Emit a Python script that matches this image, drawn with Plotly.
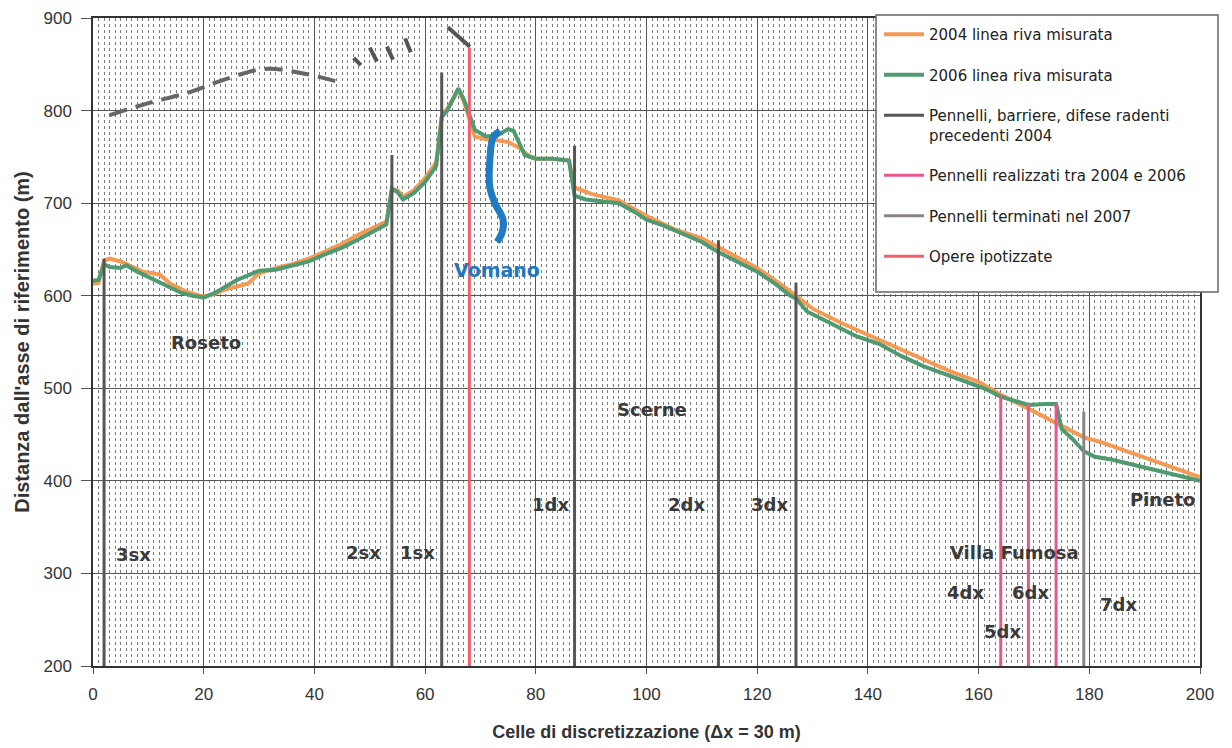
import plotly.graph_objects as go

# ---------------- data ----------------
x2006 = [0, 1, 2, 3, 5, 6, 8, 10, 12, 14, 16, 18, 20, 22, 24, 26, 28, 30, 33, 36, 39, 42, 45, 48, 51, 53,
         54, 55, 56, 58, 60, 62, 63, 64, 66, 67, 69, 71, 73, 75, 76, 78, 80, 83, 86,
         87, 89, 92, 95, 98, 100, 103, 107, 110, 113, 116, 120, 123, 126, 127, 129, 131, 135, 138, 142,
         146, 150, 154, 158, 161, 164, 167, 169, 172, 174, 175, 177, 179, 181, 184, 188, 192, 196, 200]
y2006 = [616, 617, 634, 631, 630, 633, 626, 620, 614, 608, 603, 600, 598, 603, 610, 617, 622, 627, 628, 632, 637, 645, 652, 661, 671, 677,
         716, 712, 704, 711, 723, 740, 793, 800, 824, 812, 779, 772, 773, 780, 778, 752, 748, 748, 746,
         708, 704, 702, 700, 690, 682, 676, 666, 658, 647, 638, 626, 614, 600, 597, 583, 577, 565, 556, 548,
         535, 524, 515, 507, 500, 491, 485, 482, 483, 483, 456, 445, 432, 426, 423, 417, 412, 406, 400]

x2004 = [0, 1, 2, 3, 5, 7, 9, 12, 14, 17, 20, 22, 24, 26, 28, 30, 33, 36, 39, 42, 45, 48, 51, 53,
         54, 55, 56, 58, 60, 62, 63, 64, 66, 67, 69, 71, 73, 75, 77, 79, 80, 83, 86,
         87, 90, 95, 100, 105, 110, 115, 120, 125, 130, 135, 140, 145, 150, 155, 160, 164,
         169, 174, 179, 182, 188, 192, 196, 200]
y2004 = [613, 614, 638, 640, 637, 631, 626, 623, 613, 604, 599, 602, 607, 610, 613, 624, 630, 634, 640, 648, 656, 666, 675, 680,
         714, 714, 707, 714, 727, 744, 793, 802, 822, 810, 772, 769, 768, 766, 760, 750, 748, 748, 746,
         717, 710, 703, 686, 672, 662, 646, 630, 609, 586, 571, 558, 544, 531, 518, 507, 493,
         478, 462, 447, 442, 429, 421, 412, 404]

# existing groynes / barriers before 2004 (x, top value)
groyne_x = [2, 54, 63, 87, 113, 127]
groyne_top = [640, 752, 841, 762, 660, 614]
# offshore barrier (dashed arc)
barrier_x = [3, 10, 17.5, 24, 31, 38, 44.3]
barrier_y = [795, 808, 820, 834, 845, 840, 831]
# short detached segments (start/end pairs)
seg_x = [[47.1, 48.4], [50.0, 51.3], [53.1, 54.2], [56.4, 57.4], [64.1, 68.1]]
seg_y = [[857, 849], [868, 853], [869, 855], [878, 863], [890, 869]]

# groynes built between 2004 and 2006
new_x = [164, 169, 174]
new_top = [493, 484, 484]
# groyne completed in 2007
done_x = [179]
done_top = [475]
# hypothesised works
plan_x = [68]
plan_top = [868]

# Vomano river mouth
river_x = [73.5, 72.3, 71.7, 71.7, 72.6, 74.1, 73.9, 73.0]
river_y = [778, 771, 747, 717, 700, 682, 668, 658]

labels = ["Roseto", "Scerne", "1dx", "2dx", "3dx", "Pineto", "3sx", "2sx", "1sx",
          "Villa Fumosa", "4dx", "6dx", "5dx", "7dx"]
label_x = [20.5, 101, 82.7, 107.2, 122.2, 193.3, 7.4, 48.8, 58.7, 166.5, 157.7, 169.3, 164.4, 185.2]
label_y = [550, 477, 374, 374, 374, 380, 320, 323, 323, 323, 279, 279, 237, 266]

BASE = 200

def verticals(xs, tops):
    xx, yy = [], []
    for x, t in zip(xs, tops):
        xx += [x, x, None]
        yy += [BASE, t, None]
    return xx, yy

fig = go.Figure()
FONT = "Liberation Sans, Arial, sans-serif"
WIDE = "DejaVu Sans, Verdana, sans-serif"

fig.add_trace(go.Scatter(x=x2004, y=y2004, mode="lines", name="2004 linea riva misurata",
                         line=dict(color="#f49a55", width=4), legendgroup="a"))
fig.add_trace(go.Scatter(x=x2006, y=y2006, mode="lines", name="2006 linea riva misurata",
                         line=dict(color="#4f9a70", width=4), legendgroup="b"))

gx, gy = verticals(groyne_x, groyne_top)
fig.add_trace(go.Scatter(x=gx, y=gy, mode="lines",
                         name="Pennelli, barriere, difese radenti<br>precedenti 2004",
                         line=dict(color="#555555", width=3), legendgroup="c"))
fig.add_trace(go.Scatter(x=barrier_x, y=barrier_y, mode="lines", showlegend=False,
                         line=dict(color="#666666", width=4, dash="18px,9px", shape="spline"),
                         legendgroup="c"))
sx, sy = [], []
for a, b in zip(seg_x, seg_y):
    sx += a + [None]
    sy += b + [None]
fig.add_trace(go.Scatter(x=sx, y=sy, mode="lines", showlegend=False,
                         line=dict(color="#555555", width=4), legendgroup="c"))

nx, ny = verticals(new_x, new_top)
fig.add_trace(go.Scatter(x=nx, y=ny, mode="lines", name="Pennelli realizzati tra 2004 e 2006",
                         line=dict(color="#e8568e", width=3), legendgroup="d"))
dx_, dy_ = verticals(done_x, done_top)
fig.add_trace(go.Scatter(x=dx_, y=dy_, mode="lines", name="Pennelli terminati nel 2007",
                         line=dict(color="#8c8388", width=3), legendgroup="e"))
px_, py_ = verticals(plan_x, plan_top)
fig.add_trace(go.Scatter(x=px_, y=py_, mode="lines", name="Opere ipotizzate",
                         line=dict(color="#f0606a", width=3), legendgroup="f"))

fig.add_trace(go.Scatter(x=river_x, y=river_y, mode="lines", showlegend=False,
                         line=dict(color="#1f7cc4", width=7, shape="spline")))

for t, x, y in zip(labels, label_x, label_y):
    fig.add_annotation(x=x, y=y, text=t, showarrow=False,
                       font=dict(family=WIDE, size=18, color="#3a3a3a", weight="bold"))
fig.add_annotation(x=73, y=628, text="Vomano", showarrow=False,
                   font=dict(family=WIDE, size=19, color="#2176c0", weight="bold"))

# white legend box
fig.add_shape(type="rect", xref="paper", yref="paper",
              x0=(876 - 93) / 1107, x1=(1218 - 93) / 1107,
              y0=1 - (292 - 18) / 648, y1=1 + 3 / 648,
              fillcolor="white", line=dict(color="#666666", width=1.5), layer="above")

fig.update_layout(
    width=1232, height=748,
    margin=dict(l=93, r=32, t=18, b=82, autoexpand=False),
    paper_bgcolor="white", plot_bgcolor="white",
    font=dict(family=FONT, color="#333333"),
    legend=dict(x=(879 - 93) / 1107, y=1.0, xanchor="left", yanchor="top",
                bgcolor="rgba(0,0,0,0)", borderwidth=0,
                font=dict(family=WIDE, size=15, color="#222222"),
                traceorder="grouped", tracegroupgap=18, valign="top", itemwidth=40),
    showlegend=True,
)
fig.update_xaxes(range=[0, 200], dtick=20, tick0=0, automargin=False,
                 showgrid=True, gridcolor="#555555", gridwidth=1,
                 minor=dict(dtick=1, showgrid=True, gridcolor="#7a7a7a", griddash="dot", gridwidth=1),
                 showline=True, linecolor="#333333", linewidth=1.5, mirror=True,
                 ticks="outside", ticklen=6, tickcolor="#555555", ticklabelstandoff=6,
                 tickfont=dict(size=17, color="#333333"), zeroline=False,
                 title=dict(text="<b>Celle di discretizzazione (Δx = 30 m)</b>",
                            font=dict(size=18, color="#333333"), standoff=22))
fig.update_yaxes(range=[200, 900], dtick=100, tick0=200, automargin=False,
                 showgrid=True, gridcolor="#555555", gridwidth=1,
                 showline=True, linecolor="#333333", linewidth=1.5, mirror=True,
                 ticks="outside", ticklen=10, tickcolor="#555555", ticklabelstandoff=6,
                 tickfont=dict(size=17, color="#333333"), zeroline=False,
                 title=dict(text="<b>Distanza dall'asse di riferimento (m)</b>",
                            font=dict(size=20, color="#333333"), standoff=8))

fig.write_html("out.html")
